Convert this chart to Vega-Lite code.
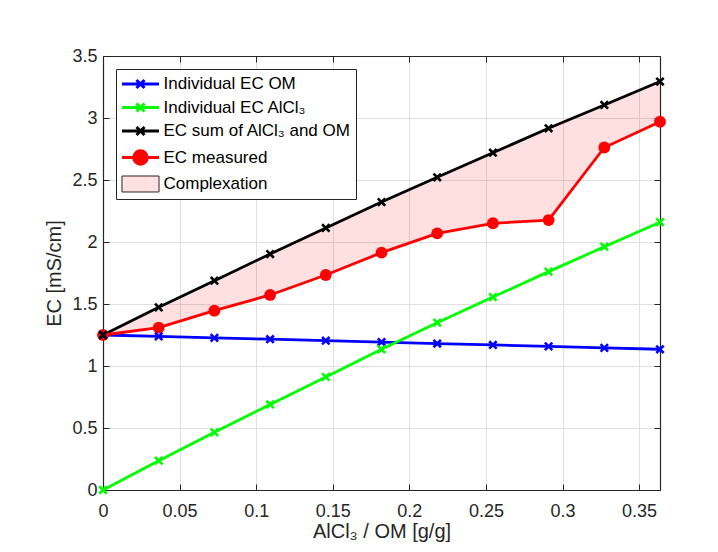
{
  "$schema": "https://vega.github.io/schema/vega-lite/v6.json",
  "width": 557,
  "height": 434,
  "autosize": "none",
  "padding": {"left": 103, "top": 56, "right": 58, "bottom": 62},
  "background": "white",
  "config": {
    "font": "Liberation Sans",
    "view": {"stroke": null},
    "axis": {"titleFontWeight": "normal", "labelFont": "Liberation Sans", "titleFont": "Liberation Sans"}
  },
  "datasets": {
    "lines": [
      {"x": 0, "series": "Individual EC OM", "ec": 1.25},
      {"x": 0.036364, "series": "Individual EC OM", "ec": 1.239},
      {"x": 0.072727, "series": "Individual EC OM", "ec": 1.227},
      {"x": 0.109091, "series": "Individual EC OM", "ec": 1.216},
      {"x": 0.145455, "series": "Individual EC OM", "ec": 1.204},
      {"x": 0.181818, "series": "Individual EC OM", "ec": 1.193},
      {"x": 0.218182, "series": "Individual EC OM", "ec": 1.181},
      {"x": 0.254545, "series": "Individual EC OM", "ec": 1.170},
      {"x": 0.290909, "series": "Individual EC OM", "ec": 1.158},
      {"x": 0.327273, "series": "Individual EC OM", "ec": 1.146},
      {"x": 0.363636, "series": "Individual EC OM", "ec": 1.135},
      {"x": 0, "series": "Individual EC AlCl₃", "ec": 0},
      {"x": 0.036364, "series": "Individual EC AlCl₃", "ec": 0.236},
      {"x": 0.072727, "series": "Individual EC AlCl₃", "ec": 0.465},
      {"x": 0.109091, "series": "Individual EC AlCl₃", "ec": 0.690},
      {"x": 0.145455, "series": "Individual EC AlCl₃", "ec": 0.912},
      {"x": 0.181818, "series": "Individual EC AlCl₃", "ec": 1.135},
      {"x": 0.218182, "series": "Individual EC AlCl₃", "ec": 1.349},
      {"x": 0.254545, "series": "Individual EC AlCl₃", "ec": 1.556},
      {"x": 0.290909, "series": "Individual EC AlCl₃", "ec": 1.761},
      {"x": 0.327273, "series": "Individual EC AlCl₃", "ec": 1.962},
      {"x": 0.363636, "series": "Individual EC AlCl₃", "ec": 2.160},
      {"x": 0, "series": "EC sum of AlCl₃ and OM", "ec": 1.25},
      {"x": 0.036364, "series": "EC sum of AlCl₃ and OM", "ec": 1.473},
      {"x": 0.072727, "series": "EC sum of AlCl₃ and OM", "ec": 1.688},
      {"x": 0.109091, "series": "EC sum of AlCl₃ and OM", "ec": 1.903},
      {"x": 0.145455, "series": "EC sum of AlCl₃ and OM", "ec": 2.113},
      {"x": 0.181818, "series": "EC sum of AlCl₃ and OM", "ec": 2.322},
      {"x": 0.218182, "series": "EC sum of AlCl₃ and OM", "ec": 2.522},
      {"x": 0.254545, "series": "EC sum of AlCl₃ and OM", "ec": 2.720},
      {"x": 0.290909, "series": "EC sum of AlCl₃ and OM", "ec": 2.917},
      {"x": 0.327273, "series": "EC sum of AlCl₃ and OM", "ec": 3.105},
      {"x": 0.363636, "series": "EC sum of AlCl₃ and OM", "ec": 3.294},
      {"x": 0, "series": "EC measured", "ec": 1.25},
      {"x": 0.036364, "series": "EC measured", "ec": 1.309},
      {"x": 0.072727, "series": "EC measured", "ec": 1.446},
      {"x": 0.109091, "series": "EC measured", "ec": 1.573},
      {"x": 0.145455, "series": "EC measured", "ec": 1.734},
      {"x": 0.181818, "series": "EC measured", "ec": 1.914},
      {"x": 0.218182, "series": "EC measured", "ec": 2.070},
      {"x": 0.254545, "series": "EC measured", "ec": 2.151},
      {"x": 0.290909, "series": "EC measured", "ec": 2.177},
      {"x": 0.327273, "series": "EC measured", "ec": 2.762},
      {"x": 0.363636, "series": "EC measured", "ec": 2.970}
    ],
    "band": [
      {"x": 0, "meas": 1.25, "sum": 1.25},
      {"x": 0.036364, "meas": 1.309, "sum": 1.473},
      {"x": 0.072727, "meas": 1.446, "sum": 1.688},
      {"x": 0.109091, "meas": 1.573, "sum": 1.903},
      {"x": 0.145455, "meas": 1.734, "sum": 2.113},
      {"x": 0.181818, "meas": 1.914, "sum": 2.322},
      {"x": 0.218182, "meas": 2.070, "sum": 2.522},
      {"x": 0.254545, "meas": 2.151, "sum": 2.720},
      {"x": 0.290909, "meas": 2.177, "sum": 2.917},
      {"x": 0.327273, "meas": 2.762, "sum": 3.105},
      {"x": 0.363636, "meas": 2.970, "sum": 3.294}
    ]
  },
  "layer": [
    {
      "data": {"name": "band"},
      "mark": {"type": "area", "color": "#ff0000", "fillOpacity": 0.12, "strokeWidth": 0},
      "encoding": {
        "x": {
          "field": "x", "type": "quantitative",
          "scale": {"domain": [0, 0.363636], "nice": false, "zero": false},
          "axis": {
            "orient": "bottom", "values": [0, 0.05, 0.1, 0.15, 0.2, 0.25, 0.3, 0.35], "format": "~g",
            "title": "AlCl₃ / OM [g/g]", "grid": true, "gridColor": "#dfdfdf", "gridWidth": 1,
            "tickSize": -6, "tickColor": "#262626", "tickWidth": 1, "domainColor": "#262626", "domainWidth": 1.2,
            "labelFontSize": 18, "labelColor": "#262626", "labelPadding": 18.5, "labelFlush": false, "labelOverlap": false,
            "titleFontSize": 20, "titleColor": "#262626", "titlePadding": 1
          }
        },
        "y": {
          "field": "meas", "type": "quantitative",
          "scale": {"domain": [0, 3.5], "nice": false},
          "axis": {
            "orient": "left", "values": [0, 0.5, 1, 1.5, 2, 2.5, 3, 3.5], "format": "~g",
            "title": "EC [mS/cm]", "grid": true, "gridColor": "#dfdfdf", "gridWidth": 1,
            "tickSize": -6, "tickColor": "#262626", "tickWidth": 1, "domainColor": "#262626", "domainWidth": 1.2,
            "labelFontSize": 18, "labelColor": "#262626", "labelPadding": 12, "labelFlush": false, "labelOverlap": false,
            "titleFontSize": 20, "titleColor": "#262626", "titlePadding": 7
          }
        },
        "y2": {"field": "sum"}
      }
    },
    {
      "data": {"name": "lines"},
      "mark": {"type": "line", "strokeWidth": 2.8},
      "encoding": {
        "x": {"field": "x", "type": "quantitative", "axis": null},
        "y": {"field": "ec", "type": "quantitative", "axis": null},
        "color": {
          "field": "series", "type": "nominal",
          "scale": {
            "domain": ["Individual EC OM", "Individual EC AlCl₃", "EC sum of AlCl₃ and OM", "EC measured", "Complexation"],
            "range": ["#0000ff", "#00ff00", "#000000", "#ff0000", "#262626"]
          },
          "legend": {
            "orient": "none", "legendX": 13, "legendY": 13, "title": null, "direction": "vertical",
            "fillColor": "white", "strokeColor": "#262626", "padding": 5, "offset": 0,
            "labelFontSize": 17, "labelColor": "#000000", "labelFont": "Liberation Sans", "labelLimit": 0,
            "symbolSize": 289, "labelOffset": 13, "rowPadding": 3.5, "symbolOffset": 9.5,
            "encode": {
              "symbols": {
                "update": {
                  "shape": {"signal": "(datum.value === 'EC measured' ? 'M-2.18,0H2.18M0.79,0A0.79,0.79 0 1,1 -0.79,0A0.79,0.79 0 1,1 0.79,0Z' : datum.value === 'Complexation' ? 'M-2.18,-0.94H2.18V0.94H-2.18Z' : 'M-2.18,0H2.18M-0.47,-0.47L0.47,0.47M-0.47,0.47L0.47,-0.47')"},
                  "fill": {"signal": "(datum.value === 'EC measured' ? '#ff0000' : datum.value === 'Complexation' ? '#ffe1e1' : 'transparent')"},
                  "stroke": {"signal": "(datum.value === 'Complexation' ? '#262626' : datum.value === 'EC measured' ? '#ff0000' : datum.value === 'Individual EC OM' ? '#0000ff' : datum.value === 'Individual EC AlCl₃' ? '#00ff00' : '#000000')"},
                  "strokeWidth": {"signal": "(datum.value === 'Complexation' ? 1 : 3)"},
                  "fillOpacity": {"value": 1},
                  "strokeOpacity": {"value": 1},
                  "opacity": {"value": 1}
                }
              }
            }
          }
        }
      }
    },
    {
      "data": {"name": "lines"},
      "transform": [{"filter": "datum.series === 'EC measured'"}],
      "mark": {"type": "circle", "size": 140, "color": "#ff0000", "opacity": 1},
      "encoding": {
        "x": {"field": "x", "type": "quantitative", "axis": null},
        "y": {"field": "ec", "type": "quantitative", "axis": null}
      }
    },
    {
      "data": {"name": "lines"},
      "transform": [{"filter": "datum.series !== 'EC measured'"}],
      "mark": {"type": "point", "shape": "M-1,-1L1,1M-1,1L1,-1", "filled": false, "size": 55, "strokeWidth": 2.6, "opacity": 1},
      "encoding": {
        "x": {"field": "x", "type": "quantitative", "axis": null},
        "y": {"field": "ec", "type": "quantitative", "axis": null},
        "color": {"field": "series", "type": "nominal"}
      }
    },
    {
      "data": {"name": "band"},
      "mark": {"type": "point", "opacity": 0},
      "encoding": {
        "x": {
          "field": "x", "type": "quantitative",
          "axis": {"orient": "top", "values": [0, 0.05, 0.1, 0.15, 0.2, 0.25, 0.3, 0.35], "labels": false, "title": null, "grid": false,
                   "tickSize": -6, "tickColor": "#262626", "domainColor": "#262626", "domainWidth": 1.2}
        },
        "y": {
          "field": "sum", "type": "quantitative",
          "axis": {"orient": "right", "values": [0, 0.5, 1, 1.5, 2, 2.5, 3, 3.5], "labels": false, "title": null, "grid": false,
                   "tickSize": -6, "tickColor": "#262626", "domainColor": "#262626", "domainWidth": 1.2}
        }
      }
    }
  ],
  "resolve": {"axis": {"x": "independent", "y": "independent"}}
}
